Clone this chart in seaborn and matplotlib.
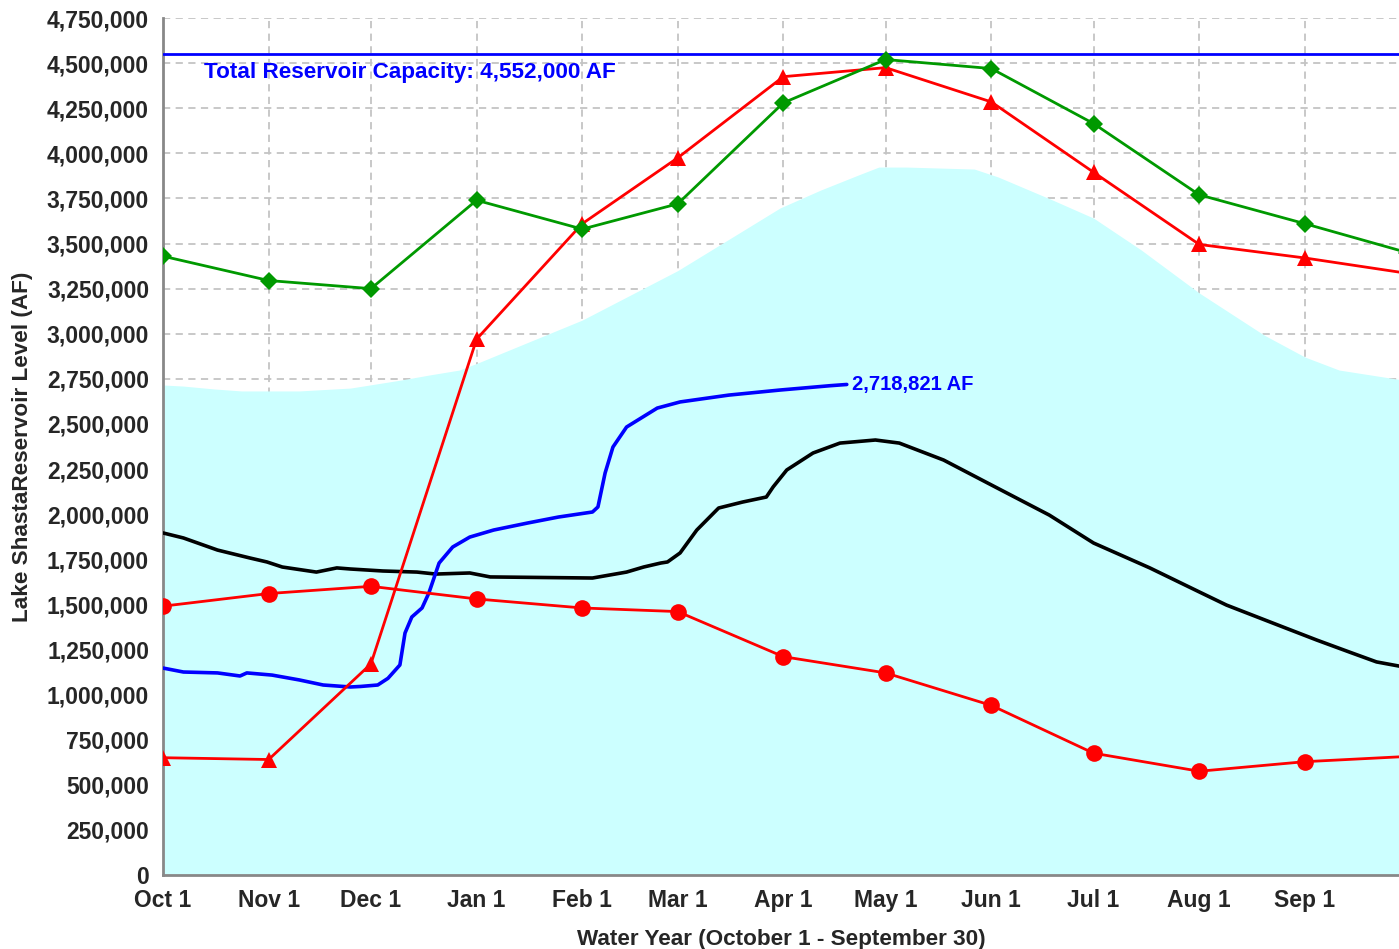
import numpy as np
import pandas as pd
import matplotlib
matplotlib.use("Agg")
import matplotlib.pyplot as plt
from matplotlib.ticker import FuncFormatter
import seaborn as sns

# Days since Oct 1 for the start of each month (last one = next Oct 1)
month_days = [0, 31, 61, 92, 123, 151, 182, 212, 243, 273, 304, 335, 365]
month_labels = ['Oct 1', 'Nov 1', 'Dec 1', 'Jan 1', 'Feb 1', 'Mar 1',
                'Apr 1', 'May 1', 'Jun 1', 'Jul 1', 'Aug 1', 'Sep 1']

# Monthly marker series (acre-feet)
green_af = [3430000, 3295000, 3250000, 3740000, 3580000, 3720000, 4280000,
            4520000, 4470000, 4165000, 3770000, 3610000, 3450000]
red_tri_af = [650000, 640000, 1170000, 2970000, 3610000, 3975000, 4425000,
              4475000, 4285000, 3895000, 3495000, 3420000, 3335000]
red_dot_af = [1490000, 1560000, 1600000, 1530000, 1480000, 1460000, 1210000,
              1120000, 940000, 675000, 575000, 628000, 657000]

# Historical average (cyan area)
avg_days = [0, 6, 15, 23, 40, 55, 70, 78, 87, 93, 123, 151, 169, 181, 193,
            204, 210, 218, 238, 245, 261, 273, 287, 304, 323, 335, 345, 365]
avg_af = [2716000, 2710000, 2694000, 2683000, 2683000, 2699000, 2744000,
          2771000, 2799000, 2843000, 3076000, 3350000, 3558000, 3697000,
          3797000, 3880000, 3924000, 3924000, 3913000, 3869000, 3741000,
          3641000, 3464000, 3226000, 2993000, 2871000, 2799000, 2740000]

# Current water year (blue)
cur_days = [0, 6, 16, 22.6, 24.6, 32, 40, 47, 55, 58, 63, 66, 69.5, 71, 73,
            76, 78, 81, 85, 90, 97, 107, 116, 126, 127.6, 129.7, 132, 136,
            145, 151.7, 166, 181, 195.7, 200.6]
cur_af = [1147000, 1125000, 1120000, 1103000, 1120000, 1108000, 1081000,
          1053000, 1042000, 1045000, 1053000, 1090000, 1164000, 1341000,
          1430000, 1480000, 1563000, 1729000, 1818000, 1873000, 1912000,
          1951000, 1984000, 2012000, 2040000, 2228000, 2372000, 2483000,
          2588000, 2622000, 2660000, 2688000, 2712000, 2718821]

# Last water year (black)
prev_days = [0, 6, 16, 25.5, 30.5, 35, 45, 51, 55, 64.5, 74.5, 80, 90, 96,
             126, 136, 141, 146, 148, 151.7, 156.6, 163, 170, 177, 179, 183,
             190.7, 198.6, 209, 216, 229, 243, 260, 273, 289.5, 304, 312,
             328.5, 338.5, 348, 356, 362.6, 365]
prev_af = [1896000, 1868000, 1801000, 1757000, 1735000, 1707000, 1679000,
           1702000, 1696000, 1685000, 1679000, 1668000, 1674000, 1652000,
           1646000, 1679000, 1707000, 1729000, 1735000, 1785000, 1912000,
           2034000, 2067000, 2095000, 2151000, 2245000, 2339000, 2394000,
           2411000, 2394000, 2300000, 2162000, 1995000, 1840000, 1702000,
           1569000, 1496000, 1375000, 1302000, 1236000, 1181000, 1158000,
           1150000]

capacity_af = 4552000
current_label = "2,718,821 AF"

sns.set_style("white")
plt.rcParams['font.family'] = ['Liberation Sans', 'DejaVu Sans']
plt.rcParams['font.weight'] = 'bold'

fig = plt.figure(figsize=(13.99, 9.49), dpi=100)
ax = fig.add_axes([0.1165, 0.078, 0.8835, 0.903])

# grid behind everything, the cyan area hides it
ax.set_axisbelow(True)
ax.grid(True, color='#c4c4c4', linestyle=(0, (4, 3)), linewidth=1.3)

ax.fill_between(avg_days, avg_af, 0, color='#ccffff', linewidth=0, zorder=1)

ax.axhline(capacity_af, color='#0000ff', linewidth=2, zorder=3)
ax.text(12, 4450000, "Total Reservoir Capacity: 4,552,000 AF", color='#0000ff',
        fontsize=16.2, fontweight='bold', va='center', ha='left', zorder=5)

sns.lineplot(x=prev_days, y=prev_af, color='black', linewidth=2.6, ax=ax, zorder=3)
sns.lineplot(x=cur_days, y=cur_af, color='#0000ff', linewidth=2.6, ax=ax, zorder=3)
sns.lineplot(x=month_days, y=red_dot_af, color='#ff0000', linewidth=2, marker='o',
             markersize=12, markeredgewidth=0, ax=ax, zorder=4)
sns.lineplot(x=month_days, y=red_tri_af, color='#ff0000', linewidth=2, marker='^',
             markersize=12, markeredgewidth=0, ax=ax, zorder=4)
sns.lineplot(x=month_days, y=green_af, color='#009900', linewidth=2, marker='D',
             markersize=9, markeredgewidth=0, ax=ax, zorder=4)

ax.text(cur_days[-1] + 1.5, cur_af[-1], current_label, color='#0000ff',
        fontsize=14.5, fontweight='bold', va='center', ha='left', zorder=5)

ax.set_xlim(0, 362.6)
ax.set_ylim(0, 4750000)
ax.set_xticks(month_days[:-1])
ax.set_xticklabels(month_labels)
ax.set_yticks(np.arange(0, 4750001, 250000))
ax.yaxis.set_major_formatter(FuncFormatter(lambda v, p: f"{int(v):,}"))
ax.tick_params(axis='both', labelsize=16.5, direction='out', length=6, width=2,
               color='#888888', pad=4)
for lab in ax.get_xticklabels() + ax.get_yticklabels():
    lab.set_fontweight('bold')

for side in ['top', 'right']:
    ax.spines[side].set_visible(False)
for side in ['left', 'bottom']:
    ax.spines[side].set_color('#888888')
    ax.spines[side].set_linewidth(2)

ax.set_xlabel("Water Year (October 1 - September 30)", fontsize=16.2,
              fontweight='bold', labelpad=12)
ax.set_ylabel("Lake ShastaReservoir Level (AF)", fontsize=16.2,
              fontweight='bold', labelpad=10)

fig.savefig("out.png", dpi=100)
